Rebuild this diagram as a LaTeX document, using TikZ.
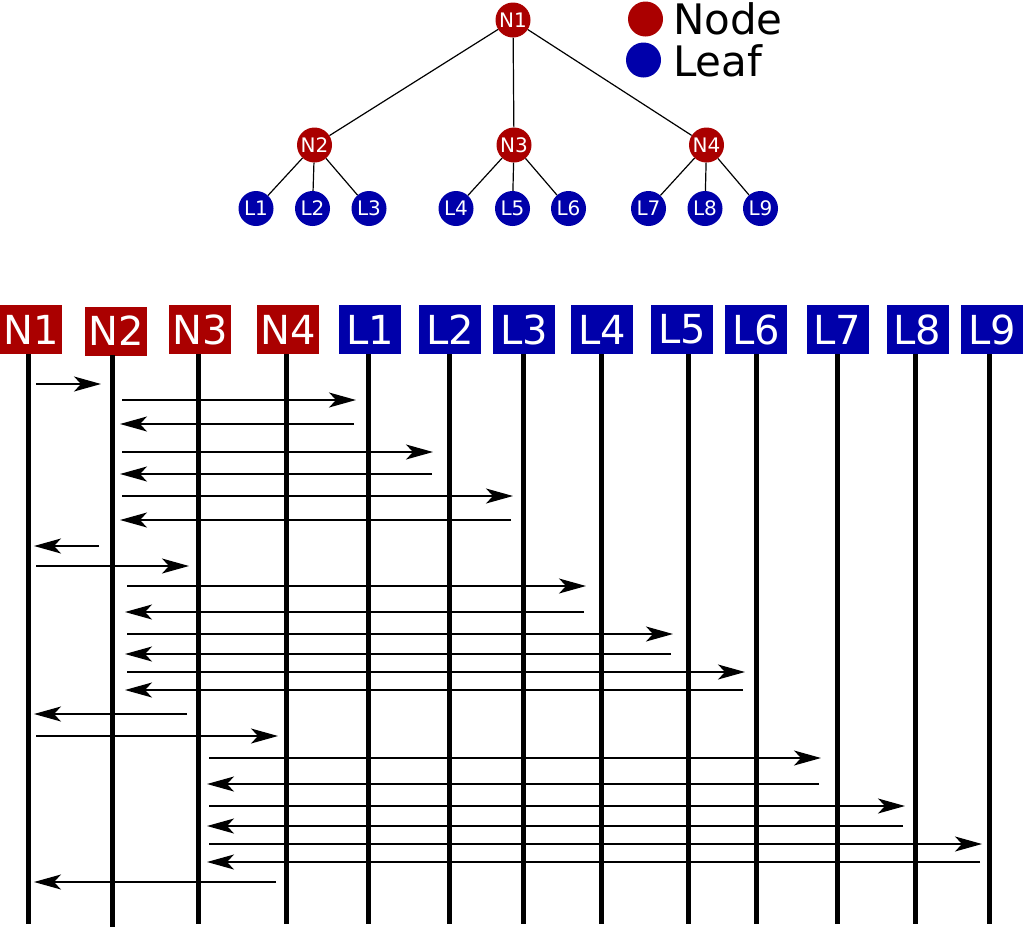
\documentclass[tikz,border=0pt]{standalone}
\usepackage{fontspec}
\setmainfont{DejaVu Sans}
\usetikzlibrary{arrows.meta}
\definecolor{nodered}{RGB}{170,0,0}
\definecolor{leafblue}{RGB}{0,0,170}
\begin{document}
\begin{tikzpicture}[x=1pt,y=-1pt,line join=round,
	tnode/.style={circle,fill=nodered,text=white,minimum size=35pt,inner sep=0pt,font=\fontsize{20}{20}\selectfont},
	tleaf/.style={tnode,fill=leafblue},
	hnode/.style={fill=nodered,text=white,minimum width=62pt,minimum height=49pt,inner sep=0pt,font=\fontsize{40}{40}\selectfont},
	hleaf/.style={hnode,fill=leafblue},
	edge/.style={line width=1.2pt},
	life/.style={line width=5pt},
	msg/.style={line width=1.4pt,-{Stealth[length=27pt,width=15pt,inset=7pt]}}]
	\useasboundingbox (0,0) rectangle (1023,927);
	\node[tnode] (tN1) at (513,20) {N1};
	\node[tnode] (tN2) at (314.5,145) {N2};
	\node[tnode] (tN3) at (514,145) {N3};
	\node[tnode] (tN4) at (706.5,145) {N4};
	\foreach \n/\x in {L1/256,L2/312.5,L3/369,L4/456,L5/512.5,L6/568.5,L7/648.5,L8/705,L9/760.5}
		\node[tleaf] (t\n) at (\x,208.5) {\n};
	\draw[edge] (tN1)--(tN2) (tN1)--(tN3) (tN1)--(tN4);
	\draw[edge] (tN2)--(tL1) (tN2)--(tL2) (tN2)--(tL3);
	\draw[edge] (tN3)--(tL4) (tN3)--(tL5) (tN3)--(tL6);
	\draw[edge] (tN4)--(tL7) (tN4)--(tL8) (tN4)--(tL9);
	\node[circle,fill=nodered,minimum size=35pt,inner sep=0pt] (kNode) at (645.5,19) {};
	\node[circle,fill=leafblue,minimum size=35pt,inner sep=0pt] (kLeaf) at (643.5,60) {};
	\node[anchor=base west,inner sep=0pt,font=\fontsize{42}{42}\selectfont] (lNode) at (673,34) {Node};
	\node[anchor=base west,inner sep=0pt,font=\fontsize{42}{42}\selectfont] (lLeaf) at (673,76) {Leaf};
	\foreach \n/\x/\y in {N1/31/329.5,N2/116/331,N3/200/329.5,N4/288/329.5}
		\node[hnode] (\n) at (\x,\y) {\n};
	\foreach \n/\x in {L1/370,L2/450,L3/524,L4/602,L5/682,L6/756,L7/837.5,L8/917.5,L9/992}
		\node[hleaf] (\n) at (\x,329.5) {\n};
	\foreach \n/\x/\t/\b in {N1/28/354/924,N2/112/355/927,N3/198/354/924,N4/286/354/924,L1/368/354/924,L2/449/354/924,L3/523/354/924,L4/601/354/924,L5/688/354/924,L6/756/354/924,L7/837/354/924,L8/915/354/924,L9/989/354/924}{
		\coordinate (\n l) at (\x,\t);
		\coordinate (\n e) at (\x,\b);
		\draw[life] (\n l)--(\n e);
	}
	\foreach \y/\a/\b/\s/\e in {384/N1/N2/8/-11,400/N2/L1/10/-12,424/L1/N2/-14/8,452/N2/L2/10/-16,474/L2/N2/-17/8,
		496/N2/L3/10/-10,520/L3/N2/-12/8,546/N2/N1/-13/6,566/N1/N3/8/-9,586/N2/L4/15/-15,612/L4/N2/-17/13,
		634/N2/L5/15/-15,654/L5/N2/-17/13,672/N2/L6/15/-11,690/L6/N2/-13/13,714/N3/N1/-11/6,736/N1/N4/8/-8,
		758/N3/L7/11/-16,784/L7/N3/-18/9,806/N3/L8/11/-10,826/L8/N3/-12/9,844/N3/L9/11/-7,862/L9/N3/-9/9,882/N4/N1/-10/6}
		\draw[msg] ([xshift=\s pt]\a l |- 0,\y)--([xshift=\e pt]\b l |- 0,\y);
\end{tikzpicture}
\end{document}
